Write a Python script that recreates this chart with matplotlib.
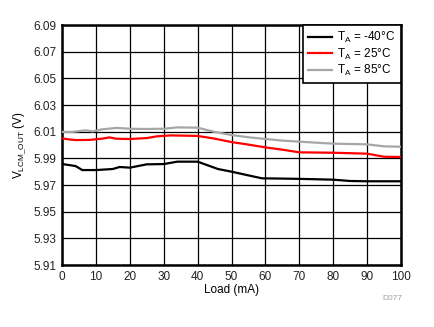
import matplotlib
matplotlib.use("Agg")
import matplotlib.pyplot as plt

plt.rcParams['font.family'] = ['Liberation Sans', 'DejaVu Sans']

# Output common-mode voltage vs load current at three temperatures
load_m40 = [0, 2, 4, 6, 10, 15, 17, 20, 25, 30, 34, 40, 46, 50, 55, 59, 65, 70, 80, 85, 90, 100]
vout_m40 = [5.9857, 5.9850, 5.9842, 5.9812, 5.9812, 5.9820, 5.9835, 5.9830, 5.9855, 5.9857, 5.9875, 5.9875,
            5.9820, 5.9800, 5.9772, 5.9750, 5.9748, 5.9746, 5.9740, 5.9730, 5.9728, 5.9728]

load_25 = [0, 2, 4, 8, 12, 14, 16, 20, 25, 28, 32, 40, 45, 50, 55, 60, 65, 70, 80, 90, 95, 100]
vout_25 = [6.0050, 6.0042, 6.0037, 6.0038, 6.0048, 6.0057, 6.0047, 6.0045, 6.0052, 6.0065, 6.0072, 6.0068,
           6.0048, 6.0022, 6.0003, 5.9982, 5.9965, 5.9945, 5.9942, 5.9935, 5.9912, 5.9910]

load_85 = [0, 3, 7, 9, 12, 16, 20, 25, 30, 34, 40, 45, 50, 55, 60, 65, 70, 80, 90, 95, 100]
vout_85 = [6.0098, 6.0098, 6.0110, 6.0102, 6.0118, 6.0128, 6.0122, 6.0120, 6.0122, 6.0132, 6.0130,
           6.0098, 6.0075, 6.0058, 6.0045, 6.0033, 6.0025, 6.0010, 6.0005, 5.9990, 5.9987]

series_labels = ['T$_\\mathregular{A}$ = -40°C', 'T$_\\mathregular{A}$ = 25°C', 'T$_\\mathregular{A}$ = 85°C']
series_colors = ['#000000', '#ff0000', '#a6a6a6']

x_ticks = list(range(0, 101, 10))
y_ticks = [5.91, 5.93, 5.95, 5.97, 5.99, 6.01, 6.03, 6.05, 6.07, 6.09]

fig = plt.figure(figsize=(4.34, 3.27), dpi=100)
ax = fig.add_axes([62 / 434, 62 / 327, 339 / 434, 240 / 327])

for xs, ys, lab, col in zip([load_m40, load_25, load_85], [vout_m40, vout_25, vout_85],
                            series_labels, series_colors):
    ax.plot(xs, ys, color=col, lw=1.6, label=lab, zorder=3)

ax.set_xlim(0, 100)
ax.set_ylim(5.91, 6.09)
ax.set_xticks(x_ticks)
ax.set_yticks(y_ticks)
ax.set_yticklabels([f"{v:.2f}" for v in y_ticks])
ax.grid(True, color='black', lw=0.9)
ax.tick_params(length=0, labelsize=8.5, pad=4, colors='#222222')
for s in ax.spines.values():
    s.set_linewidth(1.8)
    s.set_color('black')

ax.set_xlabel('Load (mA)', fontsize=8.5, labelpad=1)
ax.set_ylabel('V$_\\mathregular{LCM\\_OUT}$ (V)', fontsize=8.5, labelpad=4)

leg = ax.legend(loc='upper right', fontsize=8.5, frameon=True, fancybox=False,
                borderaxespad=0, handlelength=2.0, handletextpad=0.5,
                labelspacing=0.1, borderpad=0.45)
leg.get_frame().set_edgecolor('black')
leg.get_frame().set_linewidth(1.2)
leg.get_frame().set_alpha(1)

fig.text(392 / 434, 1 - 299 / 327, 'D077', fontsize=6, color='#a0a0a0', ha='center', va='center')

fig.savefig('out.png', dpi=100)
